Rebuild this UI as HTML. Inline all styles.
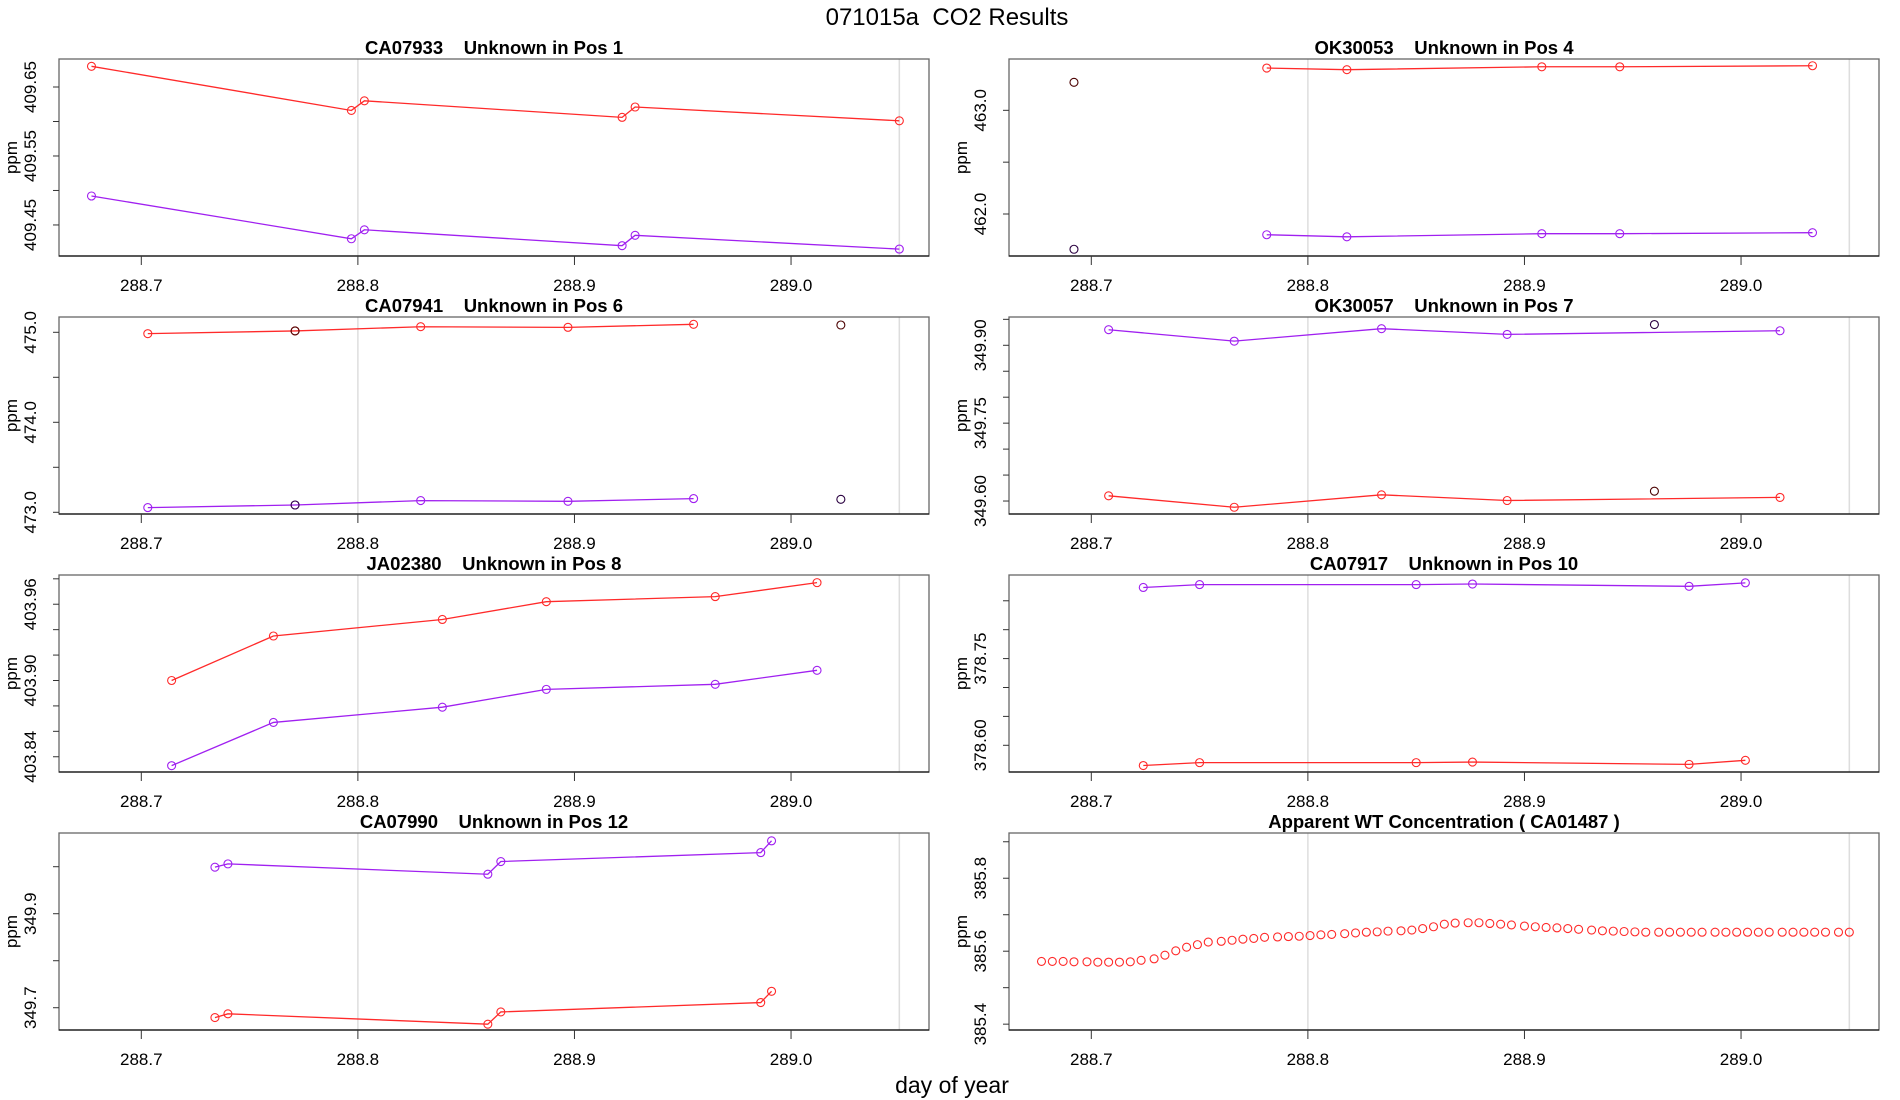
<!DOCTYPE html>
<html><head><meta charset="utf-8"><style>
html,body{margin:0;padding:0;background:#fff;}
svg{display:block;font-family:"Liberation Sans",sans-serif;}
text{white-space:pre;}
</style></head><body>
<svg id="chart" width="1900" height="1100" viewBox="0 0 1900 1100">
<text x="947" y="25" font-size="24" text-anchor="middle" xml:space="preserve">071015a  CO2 Results</text>
<text x="952" y="1093" font-size="23" text-anchor="middle">day of year</text>
</svg>
<script>
const xTicks = [288.7, 288.8, 288.9, 289.0];
const xTickLabels = ["288.7", "288.8", "288.9", "289.0"];
const refLines = [288.8, 289.05];

const titles = ["CA07933    Unknown in Pos 1", "OK30053    Unknown in Pos 4", "CA07941    Unknown in Pos 6", "OK30057    Unknown in Pos 7", "JA02380    Unknown in Pos 8", "CA07917    Unknown in Pos 10", "CA07990    Unknown in Pos 12", "Apparent WT Concentration ( CA01487 )"];
const yDomains = [[409.405, 409.6906], [461.595, 463.495], [472.981, 475.17], [349.575, 349.9545], [403.828, 403.983], [378.5538, 378.8946], [349.6526, 350.0717], [385.384, 385.924]];
const yTickVals = [
  [409.45, 409.5, 409.55, 409.6, 409.65],
  [462.0, 462.5, 463.0],
  [473.0, 473.5, 474.0, 474.5, 475.0],
  [349.6, 349.65, 349.7, 349.75, 349.8, 349.85, 349.9, 349.95],
  [403.84, 403.86, 403.88, 403.9, 403.92, 403.94, 403.96, 403.98],
  [378.6, 378.65, 378.7, 378.75, 378.8, 378.85],
  [349.7, 349.8, 349.9, 350.0],
  [385.4, 385.5, 385.6, 385.7, 385.8, 385.9]];
const yTickLabels = [
  ["409.45", "", "409.55", "", "409.65"],
  ["462.0", "", "463.0"],
  ["473.0", "", "474.0", "", "475.0"],
  ["349.60", "", "", "349.75", "", "", "349.90", ""],
  ["403.84", "", "", "403.90", "", "", "403.96", ""],
  ["378.60", "", "", "378.75", "", ""],
  ["349.7", "", "349.9", ""],
  ["385.4", "", "385.6", "", "385.8", ""]];

const p1Times = [288.677, 288.797, 288.803, 288.922, 288.928, 289.050];
const p1Red = [409.680, 409.616, 409.630, 409.606, 409.621, 409.601];
const p1Purple = [409.492, 409.430, 409.443, 409.420, 409.435, 409.415];
const p2Times = [288.781, 288.818, 288.908, 288.944, 289.033];
const p2Red = [463.408, 463.392, 463.42, 463.42, 463.43];
const p2Purple = [461.80, 461.78, 461.81, 461.81, 461.82];
const p2FlagTimes = [288.692];
const p2FlagRed = [463.27];
const p2FlagPurple = [461.66];
const p3Times = [288.703, 288.771, 288.829, 288.897, 288.955];
const p3Red = [474.985, 475.015, 475.062, 475.055, 475.089];
const p3Purple = [473.052, 473.081, 473.13, 473.122, 473.152];
const p3FlagTimes = [288.771, 289.023];
const p3FlagRed = [475.015, 475.081];
const p3FlagPurple = [473.081, 473.144];
const p4Times = [288.708, 288.766, 288.834, 288.892, 289.018];
const p4Red = [349.610, 349.588, 349.612, 349.601, 349.607];
const p4Purple = [349.930, 349.908, 349.932, 349.921, 349.928];
const p4FlagTimes = [288.960];
const p4FlagRed = [349.619];
const p4FlagPurple = [349.940];
const p5Times = [288.714, 288.761, 288.839, 288.887, 288.965, 289.012];
const p5Red = [403.900, 403.935, 403.948, 403.962, 403.966, 403.977];
const p5Purple = [403.833, 403.867, 403.879, 403.893, 403.897, 403.908];
const p6Times = [288.724, 288.750, 288.850, 288.876, 288.976, 289.002];
const p6Red = [378.565, 378.570, 378.570, 378.571, 378.567, 378.574];
const p6Purple = [378.873, 378.878, 378.878, 378.879, 378.875, 378.881];
const p7Times = [288.734, 288.740, 288.860, 288.866, 288.986, 288.991];
const p7Red = [349.679, 349.687, 349.665, 349.691, 349.711, 349.735];
const p7Purple = [349.999, 350.006, 349.984, 350.011, 350.030, 350.055];
const p8Times = [288.677,288.682,288.687,288.692,288.698,288.703,288.708,288.713,288.718,288.723,288.729,288.734,288.739,288.744,288.749,288.754,288.760,288.765,288.770,288.775,288.780,288.786,288.791,288.796,288.801,288.806,288.811,288.817,288.822,288.827,288.832,288.837,288.843,288.848,288.853,288.858,288.863,288.868,288.874,288.879,288.884,288.889,288.894,288.900,288.905,288.910,288.915,288.920,288.925,288.931,288.936,288.941,288.946,288.951,288.956,288.962,288.967,288.972,288.977,288.982,288.988,288.993,288.998,289.003,289.008,289.013,289.019,289.024,289.029,289.034,289.039,289.045,289.050];
const p8Values = [385.572,385.572,385.572,385.571,385.571,385.570,385.570,385.570,385.571,385.575,385.579,385.589,385.601,385.611,385.618,385.625,385.627,385.630,385.633,385.635,385.638,385.639,385.640,385.641,385.643,385.645,385.646,385.648,385.650,385.652,385.653,385.655,385.656,385.658,385.662,385.667,385.674,385.677,385.678,385.678,385.676,385.674,385.672,385.669,385.667,385.665,385.664,385.662,385.660,385.658,385.656,385.655,385.654,385.653,385.652,385.652,385.652,385.652,385.652,385.652,385.652,385.652,385.652,385.652,385.652,385.652,385.652,385.652,385.652,385.652,385.652,385.652,385.652];

const NS = "http://www.w3.org/2000/svg";
const svg = document.getElementById("chart");
const PW = 870, PH = 197, XMIN = 288.662, XMAX = 289.0637;
const RED = "#ff2a2a", PURPLE = "#a020f0", DRED = "#4a0000", DPUR = "#2a0040";
function mk(tag, attrs, parent) {
  const e = document.createElementNS(NS, tag);
  for (const k in attrs) e.setAttribute(k, attrs[k]);
  (parent || svg).appendChild(e);
  return e;
}
function panelPos(i) { return [59 + (i % 2) * 950, 59 + Math.floor(i / 2) * 258]; }

const panels = [];
for (let i = 0; i < 8; i++) {
  const [x0, y0] = panelPos(i);
  const dom = yDomains[i];
  const sx = t => x0 + (t - XMIN) / (XMAX - XMIN) * PW;
  const sy = v => y0 + PH - (v - dom[0]) / (dom[1] - dom[0]) * PH;
  const g = mk("g", {});
  
  
  panels.push({ g, sx, sy });
  refLines.forEach(t => {
    const l = mk("line", { x1: sx(t), x2: sx(t), y1: y0, y2: y0 + PH, stroke: "#dddddd", "stroke-width": 1.5 }, g);
    
    
  });
  const box = mk("rect", { x: x0, y: y0, width: PW, height: PH, fill: "none", stroke: "#666", "stroke-width": 1.3 }, g);
  
  
  mk("line", { x1: x0, x2: x0 + PW, y1: y0 + PH, y2: y0 + PH, stroke: "#111", "stroke-width": 1.3 }, g);
  const tt = mk("text", { x: x0 + PW / 2, y: y0 - 5, "font-size": 18.5, "font-weight": "bold", "text-anchor": "middle", "xml:space": "preserve" }, g);
  tt.textContent = titles[i];
  
  
  xTicks.forEach((t, k) => {
    mk("line", { x1: sx(t), x2: sx(t), y1: y0 + PH, y2: y0 + PH + 9, stroke: "#333", "stroke-width": 1 }, g);
    const lb = mk("text", { x: sx(t), y: y0 + PH + 35, "font-size": 17, "text-anchor": "middle" }, g);
    lb.textContent = xTickLabels[k];
    
    
  });
  yTickVals[i].forEach((v, k) => {
    const y = sy(v);
    mk("line", { x1: x0 - 6, x2: x0, y1: y, y2: y, stroke: "#333", "stroke-width": 1 }, g);
    if (yTickLabels[i][k]) {
      const lb = mk("text", { x: 0, y: 0, "font-size": 17, "text-anchor": "middle", transform: `translate(${x0 - 23},${y}) rotate(-90)` }, g);
      lb.textContent = yTickLabels[i][k];
      
      
    }
  });
  const yl = mk("text", { x: 0, y: 0, "font-size": 17, "text-anchor": "middle", transform: `translate(${x0 - 42},${y0 + PH / 2}) rotate(-90)` }, g);
  yl.textContent = "ppm";
  
  
}

function drawSeries(pi, times, vals, color, name, withLine) {
  const p = panels[pi];
  if (withLine) {
    const pts = times.map((t, k) => p.sx(t) + "," + p.sy(vals[k])).join(" ");
    const pl = mk("polyline", { points: pts, fill: "none", stroke: color, "stroke-width": 1.3 }, p.g);
    
    
  }
  times.forEach((t, k) => {
    const c = mk("ellipse", { cx: p.sx(t), cy: p.sy(vals[k]), rx: 4, ry: 4, fill: "none", stroke: color, "stroke-width": 1.1 }, p.g);
    
    
  });
}
drawSeries(0, p1Times, p1Red, RED, "red-series", true);
drawSeries(0, p1Times, p1Purple, PURPLE, "purple-series", true);
drawSeries(1, p2Times, p2Red, RED, "red-series", true);
drawSeries(1, p2Times, p2Purple, PURPLE, "purple-series", true);
drawSeries(1, p2FlagTimes, p2FlagRed, DRED, "flagged-red", false);
drawSeries(1, p2FlagTimes, p2FlagPurple, DPUR, "flagged-purple", false);
drawSeries(2, p3Times, p3Red, RED, "red-series", true);
drawSeries(2, p3Times, p3Purple, PURPLE, "purple-series", true);
drawSeries(2, p3FlagTimes, p3FlagRed, DRED, "flagged-red", false);
drawSeries(2, p3FlagTimes, p3FlagPurple, DPUR, "flagged-purple", false);
drawSeries(3, p4Times, p4Red, RED, "red-series", true);
drawSeries(3, p4Times, p4Purple, PURPLE, "purple-series", true);
drawSeries(3, p4FlagTimes, p4FlagRed, DRED, "flagged-red", false);
drawSeries(3, p4FlagTimes, p4FlagPurple, DPUR, "flagged-purple", false);
drawSeries(4, p5Times, p5Red, RED, "red-series", true);
drawSeries(4, p5Times, p5Purple, PURPLE, "purple-series", true);
drawSeries(5, p6Times, p6Red, RED, "red-series", true);
drawSeries(5, p6Times, p6Purple, PURPLE, "purple-series", true);
drawSeries(6, p7Times, p7Red, RED, "red-series", true);
drawSeries(6, p7Times, p7Purple, PURPLE, "purple-series", true);
drawSeries(7, p8Times, p8Values, RED, "wt-concentration", false);
</script>
</body></html>
